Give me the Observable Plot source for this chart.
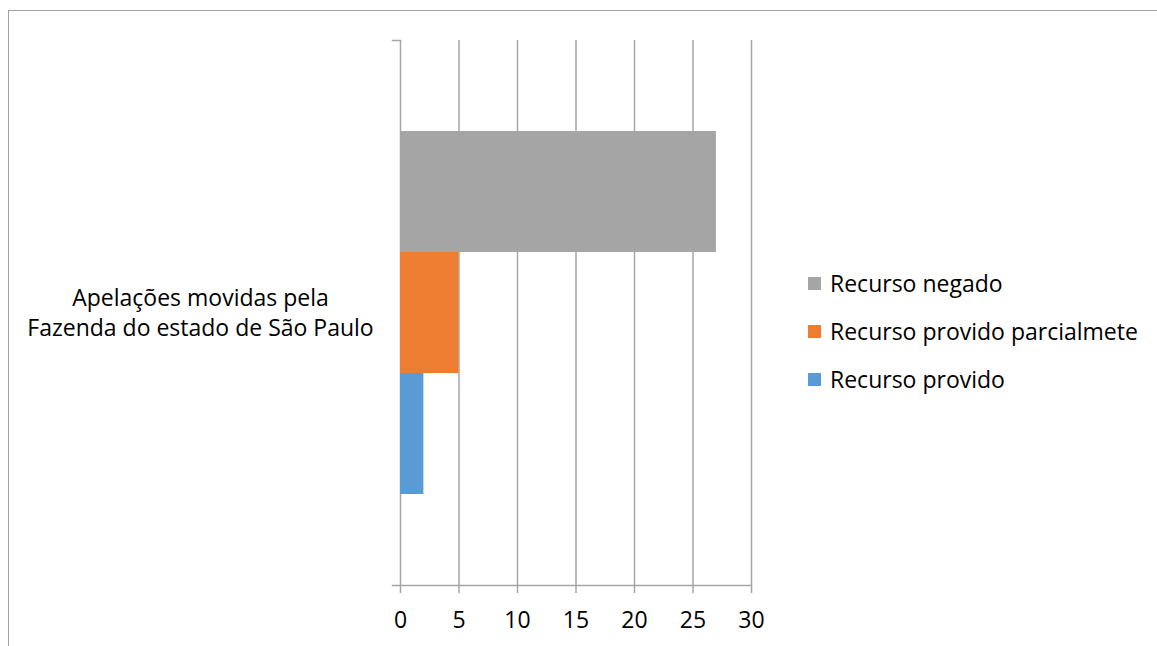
<!DOCTYPE html>
<html>
<head>
<meta charset="utf-8">
<script src="https://cdn.jsdelivr.net/npm/d3@7"></script>
<script src="https://cdn.jsdelivr.net/npm/@observablehq/plot@0.6"></script>
<style>
  html, body { margin: 0; padding: 0; background: #fff; overflow: hidden; }
  #wrap { position: relative; width: 1157px; height: 646px; font-family: "Open Sans", sans-serif; }
  #border { position: absolute; left: 8px; top: 10px; width: 1200px; height: 700px; border-left: 1px solid #a0a0a0; border-top: 1px solid #a0a0a0; box-sizing: border-box; }
  #legend { position: absolute; left: 808px; top: 259px; font-size: 23px; color: #000; }
  .item { display: flex; align-items: center; height: 48px; }
  .sw { width: 13px; height: 13px; margin-right: 9px; }
  svg { position: absolute; left: 0; top: 0; }
</style>
</head>
<body>
<div id="wrap"><div id="border"></div></div>
<script>
const categories = ["Apelações movidas pela\nFazenda do estado de São Paulo"];
const series = ["Recurso negado", "Recurso provido parcialmete", "Recurso provido"];
const values = [27, 5, 2];
const colors = ["#a5a5a5", "#ed7d31", "#5b9bd5"];
const xTicks = [0, 5, 10, 15, 20, 25, 30];

const data = series.map((s, i) => ({category: categories[0], series: s, value: values[i]}));

const chart = Plot.plot({
  width: 1157,
  height: 646,
  marginLeft: 400,
  marginRight: 406,
  marginTop: 40,
  marginBottom: 61,
  style: {fontFamily: "Open Sans, sans-serif", fontSize: "23px", color: "#000", background: "transparent"},
  x: {domain: [0, 30]},
  y: {domain: series, paddingInner: 0, paddingOuter: 0.75, axis: null},
  fy: {domain: categories, padding: 0},
  color: {domain: series, range: colors},
  marks: [
    Plot.ruleX(xTicks, {stroke: "#a6a6a6", strokeWidth: 1.5}),
    Plot.barX(data, {fy: "category", y: "series", x: "value", fill: "series", insetTop: 0, insetBottom: 0}),
    Plot.frame({anchor: "bottom", stroke: "#a6a6a6", strokeWidth: 1.5, insetLeft: -8}),
    Plot.frame({anchor: "top", stroke: "#a6a6a6", strokeWidth: 1.5, insetLeft: -8, insetRight: 351}),
    Plot.axisX(xTicks, {anchor: "bottom", tickSize: 8, tickPadding: 18, stroke: "#a6a6a6", strokeWidth: 1.5, fontSize: 23, fill: "#000", label: null}),
    Plot.axisFy({anchor: "left", tickSize: 0, tickPadding: 200, textAnchor: "middle", fontSize: 23, lineHeight: 1.3, dy: -2, fill: "#000", label: null})
  ]
});
const wrap = document.getElementById("wrap");
wrap.appendChild(chart);

const legend = document.createElement("div");
legend.id = "legend";
series.forEach((s, i) => {
  const item = document.createElement("div");
  item.className = "item";
  const sw = document.createElement("div");
  sw.className = "sw";
  sw.style.background = colors[i];
  const t = document.createElement("span");
  t.textContent = s;
  item.appendChild(sw);
  item.appendChild(t);
  legend.appendChild(item);
});
wrap.appendChild(legend);
</script>
</body>
</html>
